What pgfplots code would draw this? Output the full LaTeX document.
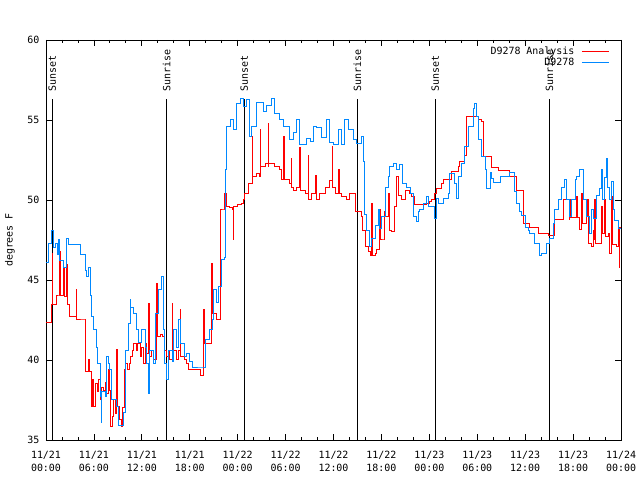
\documentclass[border=0pt]{standalone}
\usepackage{pgfplots}
\pgfplotsset{compat=1.18}
\usepackage{fontspec}
\setmainfont{DejaVu Sans Mono}
\definecolor{anred}{RGB}{255,0,0}
\definecolor{obsblue}{RGB}{0,136,255}
\begin{document}
\begin{tikzpicture}
\useasboundingbox (-46bp,-40bp) rectangle (594bp,440bp);
\begin{axis}[
 at={(0,0)}, anchor=south west,
 scale only axis, width=575bp, height=400bp,
 xmin=0, xmax=72, ymin=35, ymax=60,
 xtick={0,6,...,72},
 xticklabels={{11/21\\00:00},{11/21\\06:00},{11/21\\12:00},{11/21\\18:00},{11/22\\00:00},{11/22\\06:00},{11/22\\12:00},{11/22\\18:00},{11/23\\00:00},{11/23\\06:00},{11/23\\12:00},{11/23\\18:00},{11/24\\00:00}},
 minor x tick num=2,
 ytick={35,40,...,60},
 major tick length=6bp, minor tick length=3bp,
 tick style={black, line width=0.8bp},
 axis line style={line width=0.8bp},
 xticklabel style={align=center, font=\fontsize{10}{13}\selectfont, yshift=-8bp},
 yticklabel style={xshift=-3bp, font=\fontsize{10}{12}\selectfont},
 /pgf/number format/assume math mode=true,
 ylabel={degrees F},
 every axis y label/.style={at={(axis description cs:-0.0626,0.5)}, rotate=90, anchor=center, font=\fontsize{10}{12}\selectfont},
 legend style={draw=none, fill=none, at={(rel axis cs:0.9855,0.99)}, anchor=north east, nodes={inner sep=1pt}, font=\fontsize{10}{12}\selectfont},
 legend cell align=right,
 legend plot pos=right,
 legend image code/.code={\path (0bp,0bp); \draw[#1] (6bp,0bp) -- (33bp,0bp);},
]
% sunrise / sunset lines
\addplot[black, line width=0.8bp, forget plot] coordinates {(0.79,35) (0.79,56.3)};
\addplot[black, line width=0.8bp, forget plot] coordinates {(15.11,35) (15.11,56.3)};
\addplot[black, line width=0.8bp, forget plot] coordinates {(24.83,35) (24.83,56.3)};
\addplot[black, line width=0.8bp, forget plot] coordinates {(38.98,35) (38.98,56.3)};
\addplot[black, line width=0.8bp, forget plot] coordinates {(48.75,35) (48.75,56.3)};
\addplot[black, line width=0.8bp, forget plot] coordinates {(63.03,35) (63.03,56.3)};

\addplot[anred, line width=1bp, const plot] table {
0.0 42.33
0.71 42.33
0.75 43.44
0.8 46.67
0.85 43.44
1.3 43.44
1.35 44.0
1.7 44.0
1.75 46.77
1.8 44.0
2.2 45.73
2.3 43.96
2.6 45.94
2.65 43.44
3.0 42.71
3.75 42.71
3.8 44.375
3.85 42.5
4.9 42.5
4.95 39.27
5.3 40.0
5.5 39.27
5.7 37.5
5.75 37.08
5.85 38.75
6.0 37.08
6.2 38.5
6.4 38.0
6.6 38.75
6.8 37.5
7.0 38.3
7.2 38.1
7.4 38.6
7.6 37.9
7.8 39.4
7.9 38.1
8.1 35.83
8.3 36.46
8.5 37.5
8.7 36.67
8.85 40.625
8.9 37.1
9.2 36.3
9.47 35.83
9.6 37.0
9.8 39.4
10.0 39.79
10.2 39.375
10.4 39.79
10.6 40.2
10.8 40.6
11.0 41.04
11.3 40.6
11.5 41.0
11.8 40.2
12.0 40.8
12.2 39.8
12.4 41.0
12.6 40.4
12.8 43.54
12.9 40.2
13.2 40.6
13.5 40.0
13.86 44.79
13.95 41.46
14.3 41.6
14.6 41.46
14.9 40.6
15.1 40.2
15.3 40.6
15.5 40.0
15.8 43.54
15.9 40.6
16.3 40.0
16.6 40.6
16.8 43.125
16.9 40.2
17.3 40.0
17.6 39.8
17.9 39.375
19.3 39.06
19.7 39.06
19.72 43.125
19.8 41.04
20.5 41.04
20.74 46.04
20.8 42.9
21.4 42.5
21.79 49.375
22.3 49.375
22.4 50.42
22.6 49.6
23.0 49.5
23.4 49.4
23.46 47.5
23.5 49.6
24.0 49.7
24.5 49.8
24.7 50.0
24.9 50.4
25.3 51.04
25.75 51.04
25.8 53.96
25.85 51.46
26.4 51.67
26.79 51.46
26.8 54.375
26.85 52.08
27.5 52.29
27.84 52.08
27.85 54.79
27.9 52.3
28.6 52.08
29.0 52.1
29.3 51.9
29.5 51.25
29.8 53.96
29.85 51.25
30.5 51.04
30.76 52.6
30.8 50.8
31.0 50.6
31.39 50.8
31.8 53.25
31.85 50.6
32.5 50.4
32.85 52.8
32.9 50.0
33.3 50.42
33.8 51.5
33.9 50.0
34.3 50.42
35.0 50.8
35.5 51.2
35.85 53.33
35.9 50.8
36.2 50.42
36.6 51.9
36.7 50.4
37.0 50.2
37.65 50.0
38.0 50.4
38.7 50.4
38.8 49.27
39.5 48.96
39.6 48.1
40.0 47.1
40.4 46.77
40.6 46.56
40.78 49.79
40.85 46.56
41.2 46.67
41.4 46.875
41.8 49.375
41.85 47.5
42.3 47.5
42.4 49.27
42.5 48.96
42.9 50.42
42.95 48.1
43.3 48.0
43.7 49.6
43.9 51.46
44.1 50.3
44.5 50.0
45.0 50.6
45.5 50.42
45.8 50.2
46.2 49.7
47.66 49.79
48.0 49.9
48.3 50.0
48.7 50.42
48.9 50.7
49.5 51.04
49.75 51.3
50.6 51.3
50.8 51.8
51.6 52.1
51.8 52.4
52.46 52.8
52.67 55.2
53.5 55.2
54.1 55.0
54.55 54.9
54.76 52.7
55.6 52.7
55.8 52.0
56.6 51.85
57.7 51.85
58.1 51.46
58.7 51.46
58.9 50.6
59.56 50.6
59.77 48.54
60.6 48.25
61.64 47.9
62.7 47.9
62.9 47.8
63.5 47.8
63.73 48.8
64.57 48.8
64.77 50.0
65.4 50.0
65.5 48.8
65.61 50.0
65.7 48.9
66.0 48.9
66.44 50.2
66.5 48.9
66.86 48.125
67.07 50.4
67.2 48.5
67.7 49.0
67.75 50.0
67.9 47.3
68.3 47.1
68.5 48.1
68.6 47.5
68.74 50.0
68.8 47.3
69.57 47.3
69.6 49.6
69.7 47.9
69.99 50.0
70.05 47.7
70.4 47.9
70.62 46.67
70.83 50.2
70.9 47.2
71.45 47.1
71.66 48.3
71.79 45.75
71.87 48.3
72.0 48.3
};
\addlegendentry{D9278 Analysis}

\addplot[obsblue, line width=1bp, const plot] table {
0.0 46.1
0.3 47.3
0.75 48.1
0.95 47.0
1.2 47.3
1.5 46.6
1.55 47.5
1.75 46.2
2.2 45.8
2.59 47.6
2.8 47.2
3.84 47.2
4.3 46.6
4.9 46.1
5.0 45.6
5.1 45.2
5.3 45.8
5.5 45.8
5.6 44.0
5.72 42.7
6.0 41.9
6.3 40.8
6.5 39.8
6.8 37.7
6.9 36.1
7.0 38.0
7.5 37.7
7.6 40.2
7.8 39.8
8.0 39.4
8.2 37.5
8.8 37.1
9.06 35.9
9.5 35.9
9.7 36.7
10.0 40.6
10.3 42.3
10.52 43.75
10.6 43.3
11.0 42.9
11.35 41.9
11.6 41.1
12.0 41.9
12.4 40.8
12.6 39.8
12.8 37.9
13.0 40.6
13.5 39.8
13.7 42.9
14.1 44.4
14.48 45.2
14.7 41.9
14.9 39.8
15.11 38.75
15.3 40.6
15.8 39.9
16.0 41.9
16.36 40.8
16.6 42.5
16.9 41.0
17.3 40.2
17.6 40.4
18.0 39.9
18.4 39.5
19.7 39.5
20.0 41.25
20.5 41.9
20.8 42.5
21.0 44.4
21.4 43.6
21.6 44.6
21.8 44.6
22.0 46.25
22.4 46.4
22.45 51.9
22.6 54.6
23.04 55.0
23.46 54.4
23.88 56.04
24.3 56.35
24.7 55.83
25.1 56.3
25.5 53.96
25.75 54.6
26.4 56.1
27.2 55.5
27.6 55.9
28.25 56.35
28.67 55.4
29.3 55.0
29.8 54.6
30.55 53.75
30.97 54.2
31.39 55.0
31.8 53.44
32.64 53.85
33.06 53.65
33.5 54.6
33.89 54.5
34.5 53.9
35.15 55.0
35.56 53.6
35.98 53.44
36.6 54.4
37.0 53.44
37.4 55.0
37.86 54.4
38.48 53.75
38.9 53.54
39.52 53.96
39.73 52.4
39.94 49.1
40.15 48.1
40.57 47.1
40.78 47.6
41.2 48.4
41.6 49.4
41.82 48.2
42.03 48.96
42.45 50.75
42.86 51.46
43.07 52.08
43.5 52.3
43.9 51.9
44.3 52.2
44.7 51.04
45.16 50.8
45.6 50.4
46.0 48.96
46.4 48.65
46.6 49.3
46.83 49.375
47.25 49.8
47.66 50.2
47.9 49.6
48.7 48.85
48.9 50.1
49.1 49.8
49.75 50.1
50.4 50.4
50.58 51.67
51.2 51.0
51.4 50.1
51.6 51.46
52.0 52.3
52.46 53.33
52.9 54.6
53.5 55.7
53.7 56.0
53.9 55.2
54.1 53.75
54.55 52.7
54.97 51.9
55.17 50.7
55.6 51.7
55.8 51.35
56.0 51.1
56.85 51.46
58.1 51.7
58.72 50.5
58.93 49.8
59.35 49.3
59.56 49.06
59.98 48.3
60.4 48.1
60.6 47.9
61.2 47.29
61.85 46.56
62.06 46.67
62.69 47.29
63.1 47.6
63.52 48.5
63.73 49.4
64.15 50.0
64.57 50.8
64.98 51.25
65.2 50.0
65.61 48.96
65.8 50.0
66.24 51.25
66.44 51.46
66.86 51.9
67.28 50.0
67.7 48.96
68.1 47.9
68.32 49.375
68.53 48.85
68.95 50.3
69.36 50.7
69.57 51.9
69.65 50.0
69.99 51.4
70.2 52.6
70.25 50.8
70.62 50.0
70.83 51.15
71.04 49.4
71.24 48.7
71.66 48.2
72.0 48.2
};
\addlegendentry{D9278}

\node[rotate=90, anchor=west, inner sep=0pt, font=\fontsize{10}{12}\selectfont] at (axis cs:0.79,56.75) {Sunset};
\node[rotate=90, anchor=west, inner sep=0pt, font=\fontsize{10}{12}\selectfont] at (axis cs:15.11,56.75) {Sunrise};
\node[rotate=90, anchor=west, inner sep=0pt, font=\fontsize{10}{12}\selectfont] at (axis cs:24.83,56.75) {Sunset};
\node[rotate=90, anchor=west, inner sep=0pt, font=\fontsize{10}{12}\selectfont] at (axis cs:38.98,56.75) {Sunrise};
\node[rotate=90, anchor=west, inner sep=0pt, font=\fontsize{10}{12}\selectfont] at (axis cs:48.75,56.75) {Sunset};
\node[rotate=90, anchor=west, inner sep=0pt, font=\fontsize{10}{12}\selectfont] at (axis cs:63.03,56.75) {Sunrise};
\node[font=\fontsize{10}{12}\selectfont] at (axis description cs:0.5,1.0525) {Dew Point for D9278 on 2024-Nov-21 (time in UTC)};
\end{axis}
\end{tikzpicture}
\end{document}
